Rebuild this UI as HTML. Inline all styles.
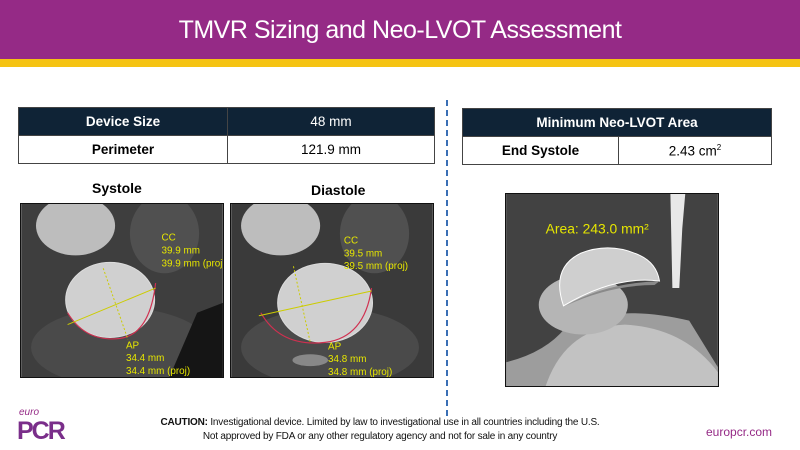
<!DOCTYPE html>
<html><head><meta charset="utf-8"><style>
*{margin:0;padding:0;box-sizing:border-box}
body{width:800px;height:450px;overflow:hidden;background:#fff;font-family:"Liberation Sans",sans-serif;position:relative}
.hdr{position:absolute;left:0;top:0;width:800px;height:59px;background:#952a86;color:#fff;font-size:25px;text-align:center;line-height:60px;letter-spacing:-0.5px}
.ybar{position:absolute;left:0;top:59px;width:800px;height:8px;background:#f5c313}
table{position:absolute;border-collapse:collapse;font-size:13.5px;text-align:center}
td{border:1px solid #444;height:28px}
.dk td{background:#0f2336;color:#fff}
b{font-weight:bold}
.lbl{position:absolute;font-weight:bold;font-size:14px}
.dash{position:absolute;left:446px;top:100px;height:316px;border-left:2px dashed #3a6fb5}
.img{position:absolute;border:1px solid #111}
.cap{position:absolute;left:90px;width:580px;text-align:center;font-size:10px;color:#111;line-height:14px;top:416px;white-space:nowrap;letter-spacing:-0.2px}
</style></head><body>
<div class="hdr">TMVR Sizing and Neo-LVOT Assessment</div>
<div class="ybar"></div>
<table style="left:18px;top:107px;width:417px">
<tr class="dk"><td style="width:209px"><b>Device Size</b></td><td>48 mm</td></tr>
<tr><td><b>Perimeter</b></td><td>121.9 mm</td></tr></table>
<table style="left:462px;top:108px;width:310px">
<tr class="dk"><td colspan="2"><b>Minimum Neo-LVOT Area</b></td></tr>
<tr><td style="width:156px"><b>End Systole</b></td><td>2.43 cm<sup style="font-size:8px">2</sup></td></tr></table>
<div class="dash"></div>
<div class="lbl" style="left:92px;top:180px">Systole</div>
<div class="lbl" style="left:311px;top:182px">Diastole</div>

<svg class="img" style="left:20px;top:203px" width="204" height="175" viewBox="0 0 204 175">
<rect width="204" height="175" fill="#3e3e3e"/>
<ellipse cx="55" cy="22" rx="40" ry="30" fill="#bdbdbd"/>
<ellipse cx="145" cy="30" rx="35" ry="40" fill="#505050"/>
<ellipse cx="100" cy="145" rx="90" ry="40" fill="#4a4a4a"/>
<path d="M178 110 L204 100 L204 175 L150 175 Z" fill="#151515"/>
<ellipse cx="90" cy="97" rx="45" ry="38" fill="#d0d0d0" stroke="#ddd"/>
<path d="M47 110 Q65 140 100 136 Q130 132 136 80" fill="none" stroke="#d03050" stroke-width="1.2"/>
<line x1="47" y1="122" x2="136" y2="85" stroke="#cccc00"/>
<line x1="83" y1="65" x2="108" y2="137" stroke="#cccc00" stroke-dasharray="2,2"/>
<g fill="#e6e600" font-size="10" font-family="Liberation Sans"><text x="142" y="37">CC</text><text x="142" y="50">39.9 mm</text><text x="142" y="63">39.9 mm (proj)</text><text x="106" y="146">AP</text><text x="106" y="159">34.4 mm</text><text x="106" y="172">34.4 mm (proj)</text></g>
</svg>

<svg class="img" style="left:230px;top:203px" width="204" height="175" viewBox="0 0 204 175">
<rect width="204" height="175" fill="#3a3a3a"/>
<ellipse cx="50" cy="22" rx="40" ry="30" fill="#bdbdbd"/>
<ellipse cx="145" cy="30" rx="35" ry="40" fill="#505050"/>
<ellipse cx="100" cy="145" rx="90" ry="40" fill="#4a4a4a"/>
<ellipse cx="95" cy="100" rx="48" ry="40" fill="#d0d0d0" stroke="#ddd"/>
<path d="M30 110 Q50 145 95 140 Q135 135 142 85" fill="none" stroke="#d03050" stroke-width="1.2"/>
<line x1="28" y1="113" x2="142" y2="88" stroke="#cccc00"/>
<line x1="63" y1="63" x2="80" y2="140" stroke="#cccc00" stroke-dasharray="2,2"/>
<ellipse cx="80" cy="158" rx="18" ry="6" fill="#888"/>
<g fill="#e6e600" font-size="10" font-family="Liberation Sans"><text x="114" y="40">CC</text><text x="114" y="53">39.5 mm</text><text x="114" y="66">39.5 mm (proj)</text><text x="98" y="147">AP</text><text x="98" y="160">34.8 mm</text><text x="98" y="173">34.8 mm (proj)</text></g>
</svg>

<svg class="img" style="left:505px;top:193px" width="214" height="194" viewBox="0 0 214 194">
<rect width="214" height="194" fill="#424242"/>
<path d="M166 0 L181 0 L178 35 L175 95 L168 95 Z" fill="#e8e8e8"/>
<path d="M0 194 L0 170 Q40 160 60 135 Q110 110 185 128 L214 175 L214 194 Z" fill="#9d9d9d"/>
<path d="M40 194 Q60 135 120 132 Q180 135 214 180 L214 194 Z" fill="#c2c2c2"/>
<ellipse cx="78" cy="112" rx="45" ry="30" fill="#b5b5b5"/>
<path d="M58 113 Q45 75 75 60 Q105 48 135 62 Q152 70 155 88 Q110 82 58 113 Z" fill="#cfcfcf" stroke="#fff"/>
<path d="M60 113 Q100 90 155 88 L150 92 Q105 92 60 113" fill="#8a8a8a"/>
<text x="40" y="40" fill="#e6e600" font-size="14" font-family="Liberation Sans">Area: 243.0 mm²</text>
</svg>

<div style="position:absolute;left:19px;top:407px;color:#952a86;font-size:10px;font-style:italic">euro</div>
<div style="position:absolute;left:17px;top:418px;color:#7a2e8a;font-size:25px;font-weight:bold;letter-spacing:-2px;line-height:26px">PCR</div>
<div class="cap"><b>CAUTION:</b> Investigational device. Limited by law to investigational use in all countries including the U.S.<br>Not approved by FDA or any other regulatory agency and not for sale in any country</div>
<div style="position:absolute;left:706px;top:425px;color:#952a86;font-size:12px">europcr.com</div>
</body></html>
